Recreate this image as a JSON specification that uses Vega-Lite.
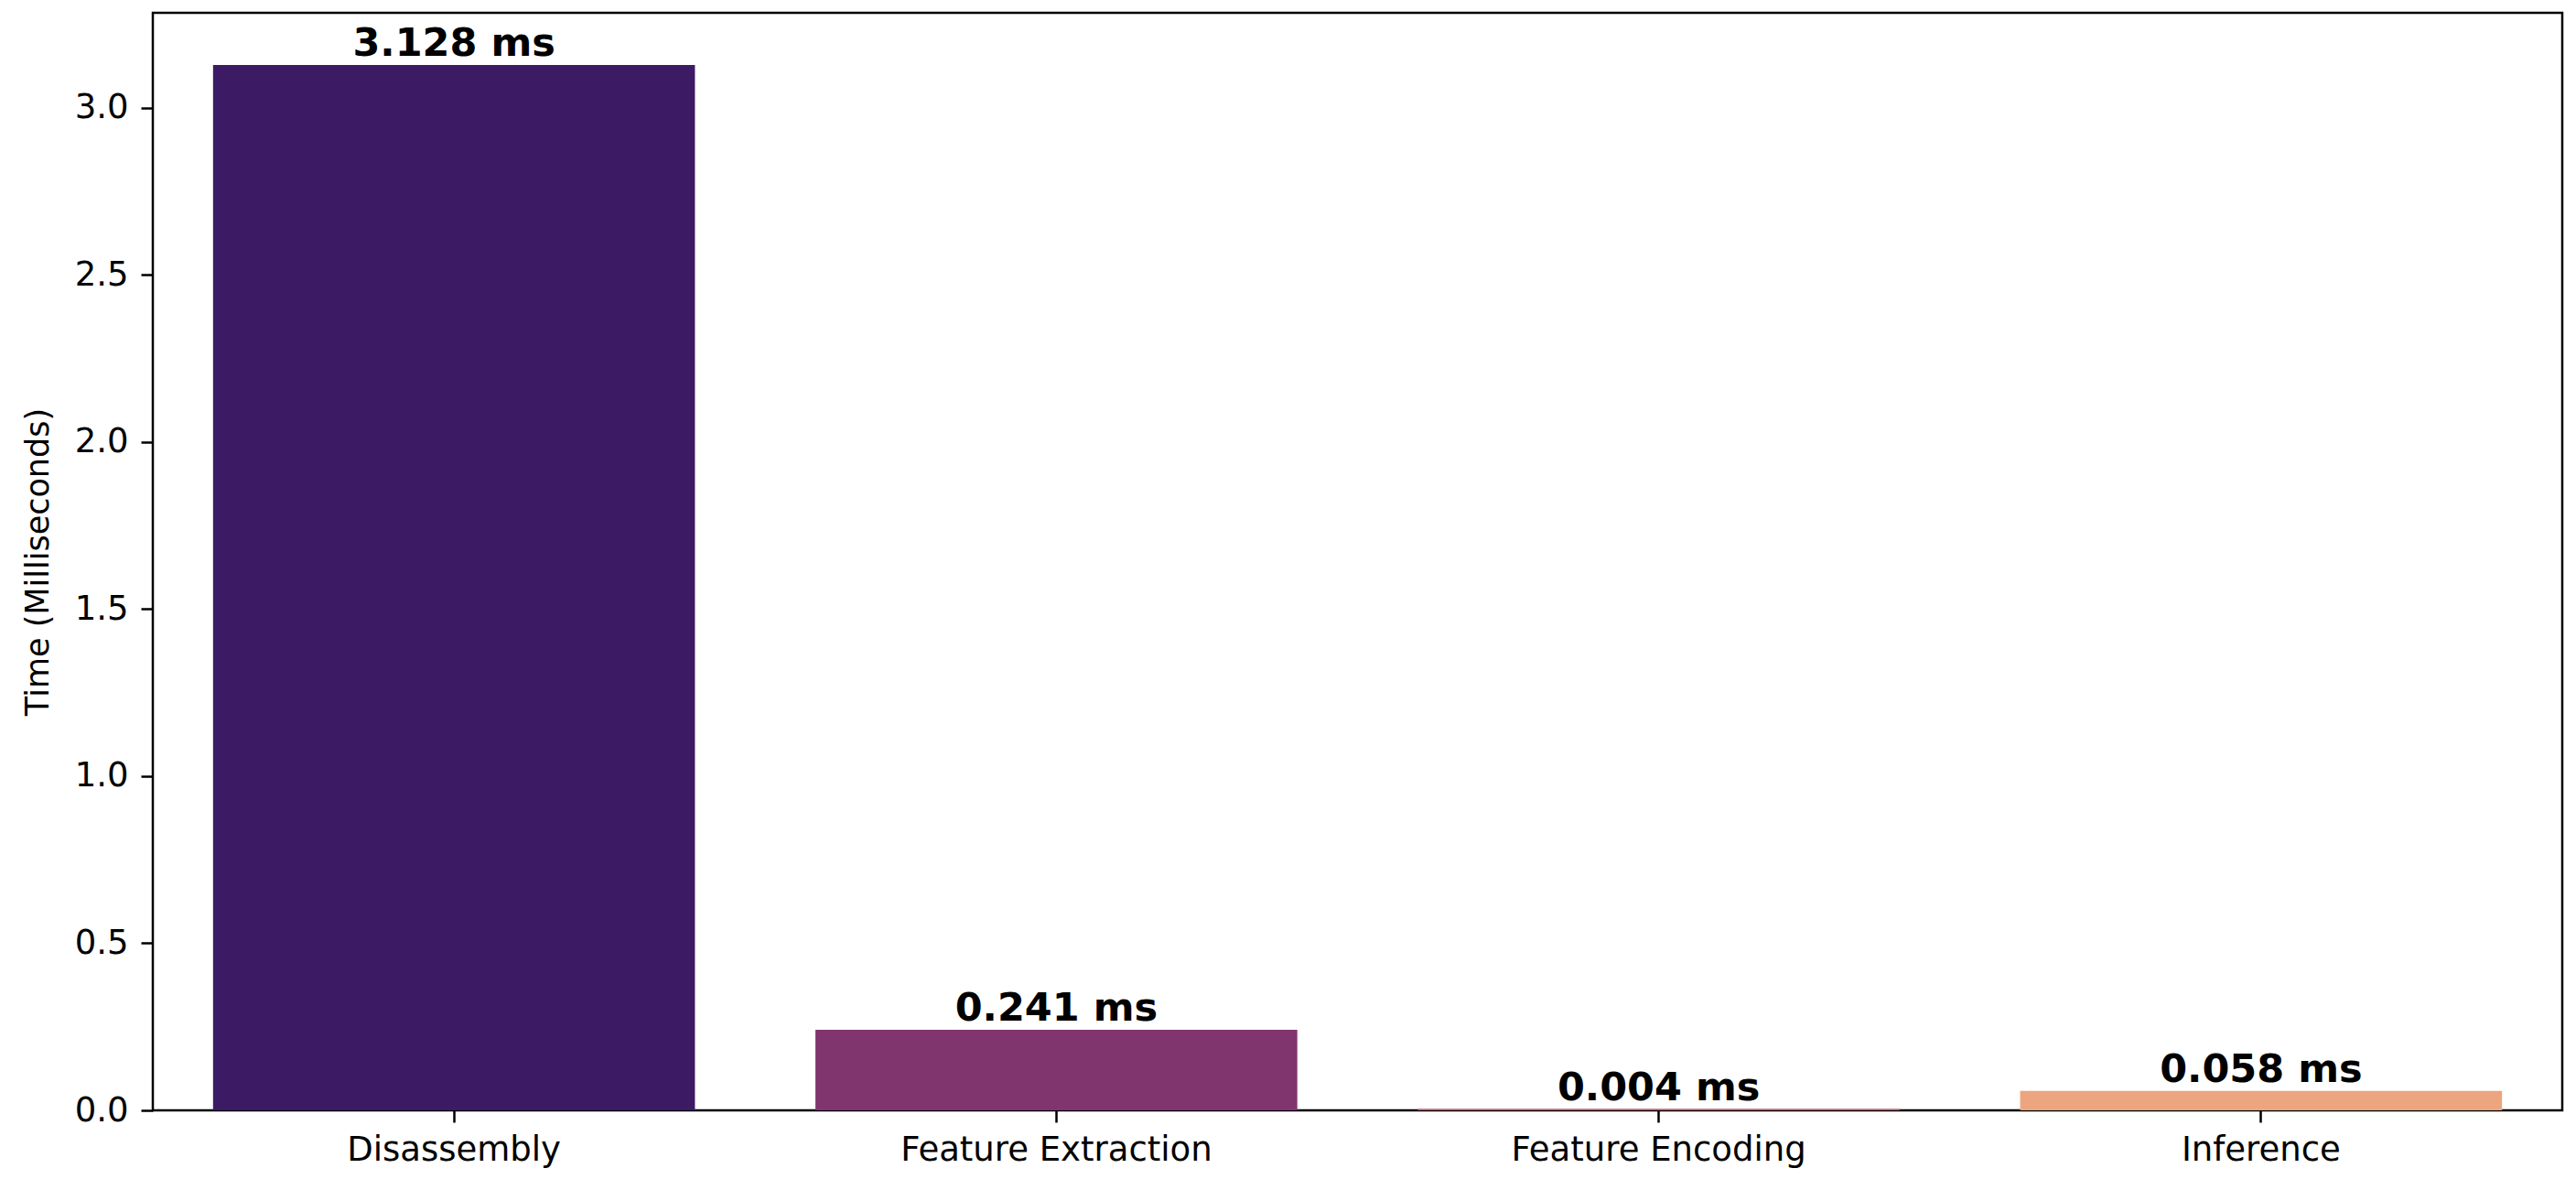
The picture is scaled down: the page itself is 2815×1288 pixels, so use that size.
{
  "$schema": "https://vega.github.io/schema/vega-lite/v6.json",
  "autosize": {"type": "none"},
  "width": 2633,
  "height": 1199,
  "padding": {"left": 167, "top": 14, "right": 15, "bottom": 75},
  "background": "white",
  "config": {
    "font": "DejaVu Sans",
    "view": {"stroke": "#000", "strokeWidth": 2.5},
    "axis": {
      "grid": false,
      "domain": false,
      "tickColor": "#000",
      "tickWidth": 2.5,
      "tickSize": 13,
      "labelFont": "DejaVu Sans",
      "labelFontSize": 37,
      "labelLimit": 1000,
      "labelColor": "#000",
      "titleFont": "DejaVu Sans",
      "titleFontSize": 35,
      "titleFontWeight": "normal",
      "titleColor": "#000"
    }
  },
  "data": {
    "values": [
      {"stage": "Disassembly", "time": 3.128, "label": "3.128 ms"},
      {"stage": "Feature Extraction", "time": 0.241, "label": "0.241 ms"},
      {"stage": "Feature Encoding", "time": 0.004, "label": "0.004 ms"},
      {"stage": "Inference", "time": 0.058, "label": "0.058 ms"}
    ]
  },
  "encoding": {
    "x": {
      "field": "stage",
      "type": "nominal",
      "sort": null,
      "scale": {"paddingInner": 0.2, "paddingOuter": 0.1},
      "axis": {"title": null, "labelAngle": 0, "labelPadding": 12}
    },
    "y": {
      "field": "time",
      "type": "quantitative",
      "scale": {"domain": [0, 3.2844], "nice": false, "zero": true},
      "axis": {
        "title": "Time (Milliseconds)",
        "values": [0, 0.5, 1, 1.5, 2, 2.5, 3],
        "format": ".1f",
        "labelPadding": 14,
        "titlePadding": 22
      }
    }
  },
  "layer": [
    {
      "mark": {"type": "bar"},
      "encoding": {
        "color": {
          "field": "stage",
          "type": "nominal",
          "legend": null,
          "scale": {
            "domain": ["Disassembly", "Feature Extraction", "Feature Encoding", "Inference"],
            "range": ["#3c1b64", "#80356f", "#cb5b73", "#eca57f"]
          }
        }
      }
    },
    {
      "mark": {
        "type": "text",
        "baseline": "alphabetic",
        "align": "center",
        "dy": -10,
        "fontSize": 43,
        "fontWeight": "bold",
        "color": "#000"
      },
      "encoding": {
        "text": {"field": "label"}
      }
    }
  ]
}
